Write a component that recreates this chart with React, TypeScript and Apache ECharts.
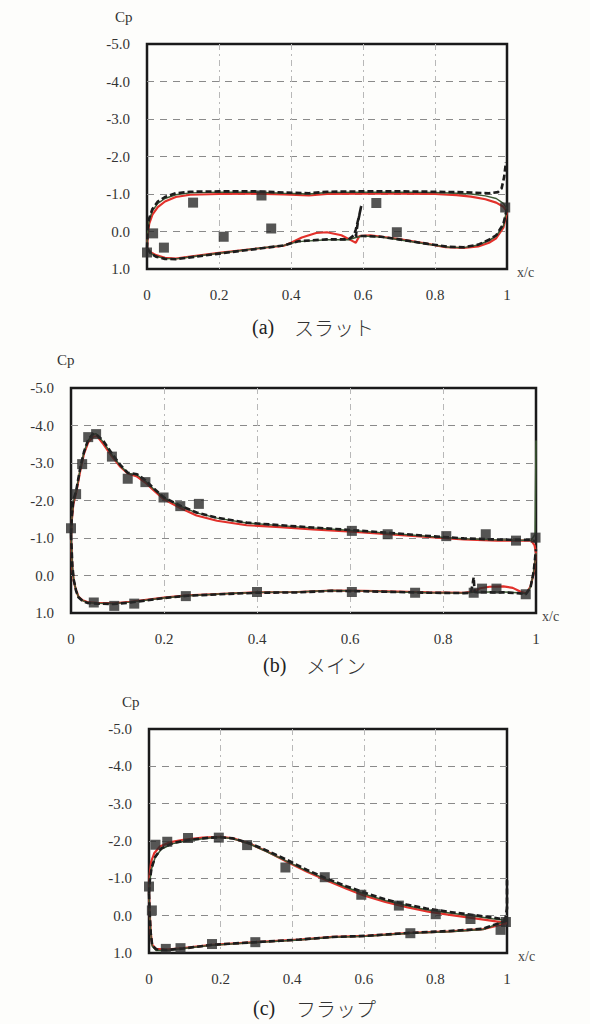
import React, { useEffect, useRef } from "react";
import * as echarts from "echarts";

// ---------- (a) slat ----------
const slatExp = [[0,0.56],[0.017,0.05],[0.047,0.43],[0.128,-0.77],[0.213,0.14],[0.318,-0.96],[0.345,-0.08],[0.637,-0.76],[0.694,0.02],[0.995,-0.64]];
const slatRedUpper = [[0,0.45],[0.002,0.1],[0.006,-0.2],[0.015,-0.45],[0.03,-0.65],[0.05,-0.8],[0.08,-0.92],[0.12,-0.98],[0.2,-1.0],[0.3,-1.01],[0.38,-0.99],[0.45,-0.96],[0.5,-1.0],[0.6,-1.01],[0.7,-1.01],[0.8,-1.0],[0.86,-0.97],[0.9,-0.93],[0.94,-0.86],[0.97,-0.77],[0.99,-0.66],[1.0,-0.52]];
const slatRedLower = [[0,0.45],[0.01,0.55],[0.025,0.63],[0.05,0.7],[0.08,0.72],[0.12,0.67],[0.2,0.57],[0.3,0.46],[0.38,0.38],[0.4,0.3],[0.43,0.16],[0.47,0.04],[0.5,0.02],[0.54,0.1],[0.57,0.25],[0.58,0.3],[0.59,0.12],[0.62,0.1],[0.7,0.2],[0.78,0.33],[0.83,0.42],[0.88,0.44],[0.92,0.4],[0.95,0.3],[0.97,0.18],[0.99,-0.1],[1.0,-0.52]];
const slatGreenUpper = [[0,0.45],[0.002,0.0],[0.006,-0.3],[0.015,-0.55],[0.03,-0.75],[0.05,-0.88],[0.08,-0.98],[0.12,-1.03],[0.2,-1.05],[0.3,-1.05],[0.38,-1.02],[0.45,-1.0],[0.5,-1.04],[0.6,-1.05],[0.7,-1.05],[0.8,-1.04],[0.86,-1.02],[0.9,-1.0],[0.94,-0.95],[0.97,-0.88],[0.99,-0.75],[1.0,-0.6]];
const slatGreenLower = [[0,0.45],[0.01,0.58],[0.025,0.66],[0.05,0.72],[0.08,0.73],[0.12,0.68],[0.2,0.58],[0.3,0.46],[0.38,0.37],[0.42,0.27],[0.5,0.22],[0.56,0.22],[0.58,0.16],[0.6,0.12],[0.65,0.15],[0.7,0.22],[0.78,0.34],[0.84,0.42],[0.88,0.43],[0.92,0.36],[0.95,0.24],[0.97,0.12],[0.99,-0.15],[1.0,-0.6]];
const slatDashUpper = [[0,0.45],[0.002,-0.05],[0.006,-0.35],[0.015,-0.6],[0.03,-0.8],[0.05,-0.92],[0.08,-1.02],[0.12,-1.06],[0.2,-1.07],[0.3,-1.07],[0.38,-1.04],[0.45,-1.02],[0.5,-1.06],[0.6,-1.07],[0.7,-1.07],[0.8,-1.06],[0.86,-1.05],[0.9,-1.04],[0.95,-1.02],[0.975,-1.05],[0.985,-1.15],[0.992,-1.45],[0.997,-1.85]];
const slatDashLower = [[0,0.45],[0.01,0.58],[0.025,0.67],[0.05,0.73],[0.08,0.74],[0.12,0.69],[0.2,0.59],[0.3,0.47],[0.38,0.37],[0.42,0.26],[0.5,0.21],[0.56,0.21],[0.575,0.1],[0.58,-0.05],[0.59,-0.45],[0.595,-0.68],[0.585,-0.2],[0.58,0.12],[0.6,0.12],[0.65,0.14],[0.7,0.21],[0.78,0.33],[0.84,0.41],[0.88,0.42],[0.92,0.35],[0.95,0.22],[0.97,0.1],[0.99,-0.2],[1.0,-0.62]];

// ---------- (b) main ----------
const mainExp = [[0,-1.26],[0.011,-2.17],[0.024,-2.97],[0.037,-3.69],[0.054,-3.77],[0.088,-3.17],[0.122,-2.58],[0.16,-2.49],[0.199,-2.08],[0.235,-1.85],[0.275,-1.91],[0.604,-1.19],[0.681,-1.1],[0.807,-1.05],[0.892,-1.1],[0.957,-0.93],[0.999,-1.01],
  [0.049,0.72],[0.093,0.81],[0.136,0.75],[0.247,0.55],[0.4,0.44],[0.604,0.44],[0.74,0.46],[0.866,0.46],[0.884,0.35],[0.915,0.35],[0.978,0.5]];
const mainRedUpper = [[0,-1.0],[0.002,-1.5],[0.005,-1.9],[0.011,-2.2],[0.02,-2.8],[0.028,-3.25],[0.037,-3.55],[0.048,-3.7],[0.056,-3.72],[0.07,-3.5],[0.088,-3.18],[0.106,-2.9],[0.122,-2.72],[0.142,-2.64],[0.16,-2.48],[0.178,-2.27],[0.2,-2.03],[0.235,-1.8],[0.27,-1.6],[0.314,-1.46],[0.378,-1.34],[0.45,-1.29],[0.52,-1.23],[0.604,-1.17],[0.681,-1.1],[0.773,-1.02],[0.845,-0.96],[0.916,-0.93],[0.96,-0.93],[0.99,-0.93],[0.997,-0.8],[1.0,-0.6]];
const mainRedLower = [[0,-1.0],[0.003,-0.2],[0.006,0.15],[0.011,0.4],[0.016,0.56],[0.025,0.66],[0.035,0.71],[0.056,0.73],[0.092,0.74],[0.128,0.7],[0.2,0.59],[0.25,0.53],[0.34,0.48],[0.4,0.45],[0.486,0.44],[0.56,0.4],[0.63,0.41],[0.7,0.43],[0.77,0.45],[0.845,0.46],[0.866,0.43],[0.88,0.34],[0.9,0.3],[0.93,0.29],[0.95,0.33],[0.965,0.42],[0.978,0.48],[0.988,0.3],[0.995,-0.05],[1.0,-0.6]];
const mainGreenUpper = [[0,-1.05],[0.002,-1.55],[0.005,-1.95],[0.011,-2.25],[0.02,-2.85],[0.028,-3.3],[0.037,-3.6],[0.046,-3.76],[0.054,-3.78],[0.07,-3.55],[0.088,-3.22],[0.106,-2.93],[0.122,-2.73],[0.142,-2.68],[0.16,-2.52],[0.178,-2.3],[0.2,-2.07],[0.235,-1.85],[0.27,-1.67],[0.314,-1.53],[0.378,-1.4],[0.45,-1.33],[0.52,-1.27],[0.604,-1.2],[0.681,-1.13],[0.773,-1.04],[0.845,-0.98],[0.916,-0.95],[0.96,-0.94],[0.99,-0.94],[0.998,-1.1],[1.0,-3.6]];
const mainGreenLower = [[0,-1.05],[0.003,-0.25],[0.006,0.12],[0.011,0.4],[0.016,0.57],[0.025,0.67],[0.035,0.72],[0.056,0.74],[0.092,0.75],[0.128,0.71],[0.2,0.6],[0.25,0.54],[0.34,0.48],[0.4,0.45],[0.486,0.44],[0.56,0.4],[0.63,0.41],[0.7,0.44],[0.77,0.46],[0.845,0.47],[0.866,0.45],[0.9,0.44],[0.93,0.44],[0.96,0.46],[0.978,0.49],[0.988,0.32],[0.995,-0.1],[1.0,-0.6]];
const mainDashUpper = [[0,-1.1],[0.002,-1.6],[0.005,-2.0],[0.011,-2.25],[0.02,-2.88],[0.028,-3.3],[0.037,-3.62],[0.046,-3.76],[0.054,-3.77],[0.07,-3.58],[0.088,-3.25],[0.106,-2.95],[0.122,-2.74],[0.142,-2.7],[0.16,-2.54],[0.178,-2.32],[0.2,-2.08],[0.235,-1.86],[0.27,-1.68],[0.314,-1.54],[0.378,-1.41],[0.45,-1.34],[0.52,-1.28],[0.604,-1.21],[0.681,-1.14],[0.773,-1.05],[0.845,-0.99],[0.916,-0.96],[0.96,-0.95],[0.99,-0.95],[1.0,-0.9]];
const mainDashLower = [[0,-1.1],[0.003,-0.25],[0.006,0.12],[0.011,0.41],[0.016,0.58],[0.025,0.68],[0.035,0.73],[0.056,0.75],[0.092,0.76],[0.128,0.72],[0.2,0.6],[0.25,0.54],[0.34,0.49],[0.4,0.46],[0.486,0.45],[0.56,0.41],[0.63,0.42],[0.7,0.44],[0.77,0.46],[0.845,0.47],[0.86,0.46],[0.864,0.2],[0.866,0.05],[0.868,0.44],[0.9,0.45],[0.93,0.45],[0.96,0.47],[0.978,0.5],[0.988,0.33],[0.995,-0.1],[1.0,-0.7]];

// ---------- (c) flap ----------
const flapExp = [[0,-0.78],[0.008,-0.14],[0.018,-1.9],[0.051,-1.98],[0.109,-2.08],[0.195,-2.09],[0.274,-1.89],[0.381,-1.29],[0.491,-1.03],[0.593,-0.56],[0.698,-0.27],[0.801,-0.04],[0.898,0.09],[0.997,0.17],
  [0.047,0.89],[0.088,0.87],[0.176,0.76],[0.297,0.71],[0.73,0.47],[0.982,0.38]];
const flapRedUpper = [[0,-0.6],[0.002,-1.1],[0.006,-1.45],[0.015,-1.68],[0.03,-1.85],[0.06,-1.97],[0.1,-2.04],[0.15,-2.09],[0.2,-2.11],[0.235,-2.07],[0.28,-1.93],[0.33,-1.72],[0.384,-1.45],[0.44,-1.18],[0.5,-0.93],[0.55,-0.73],[0.6,-0.54],[0.66,-0.37],[0.72,-0.23],[0.78,-0.11],[0.84,-0.02],[0.9,0.06],[0.96,0.14],[1.0,0.2]];
const flapRedLower = [[0,-0.6],[0.002,-0.07],[0.005,0.47],[0.009,0.78],[0.02,0.89],[0.048,0.91],[0.095,0.87],[0.176,0.78],[0.297,0.71],[0.42,0.64],[0.514,0.57],[0.607,0.54],[0.73,0.46],[0.84,0.42],[0.933,0.36],[1.0,0.2]];
const flapGreenUpper = [[0,-0.6],[0.002,-0.9],[0.007,-1.25],[0.017,-1.55],[0.034,-1.78],[0.067,-1.93],[0.114,-2.02],[0.17,-2.08],[0.2,-2.1],[0.235,-2.06],[0.281,-1.92],[0.328,-1.72],[0.384,-1.46],[0.44,-1.2],[0.495,-0.98],[0.551,-0.76],[0.607,-0.56],[0.663,-0.4],[0.719,-0.27],[0.775,-0.16],[0.84,-0.07],[0.905,0.01],[0.96,0.08],[1.0,0.13]];
const flapGreenLower = [[0,-0.6],[0.002,-0.05],[0.005,0.5],[0.009,0.82],[0.02,0.93],[0.048,0.93],[0.095,0.88],[0.176,0.79],[0.297,0.72],[0.42,0.65],[0.514,0.58],[0.607,0.55],[0.73,0.47],[0.84,0.43],[0.933,0.37],[1.0,0.13]];
const flapDashUpper = [[0,-0.6],[0.002,-0.92],[0.007,-1.27],[0.017,-1.57],[0.034,-1.8],[0.067,-1.95],[0.114,-2.03],[0.17,-2.09],[0.2,-2.1],[0.235,-2.07],[0.281,-1.94],[0.328,-1.75],[0.384,-1.5],[0.44,-1.23],[0.495,-1.0],[0.551,-0.79],[0.607,-0.6],[0.663,-0.43],[0.719,-0.3],[0.775,-0.19],[0.84,-0.1],[0.905,-0.02],[0.96,0.05],[0.995,0.1],[1.0,-0.2],[1.0,-0.95]];
const flapDashLower = [[0,-0.6],[0.002,-0.06],[0.005,0.48],[0.009,0.8],[0.02,0.9],[0.048,0.92],[0.095,0.88],[0.176,0.78],[0.297,0.71],[0.42,0.64],[0.514,0.57],[0.607,0.54],[0.73,0.46],[0.84,0.41],[0.933,0.35],[1.0,0.13]];

// ---------- axes / labels ----------
const xTicks = [0, 0.2, 0.4, 0.6, 0.8, 1];
const yTicks = [-5, -4, -3, -2, -1, 0, 1];
const captionTags = ["(a)", "(b)", "(c)"];
const captionNames = ["スラット", "メイン", "フラップ"];
const yAxisName = "Cp";
const xAxisName = "x/c";

const RED = "#e2312b";
const GREEN = "#3d5a34";
const DARK = "#1c1c1c";
const SERIF = "Liberation Serif";

const grids = [
  { left: 147, top: 44, width: 360, height: 225 },
  { left: 71, top: 388, width: 465, height: 225 },
  { left: 149, top: 729, width: 358, height: 224 },
];

const panels = [
  { red: [slatRedUpper, slatRedLower], green: [slatGreenUpper, slatGreenLower], dash: [slatDashUpper, slatDashLower], exp: slatExp },
  { red: [mainRedUpper, mainRedLower], green: [mainGreenUpper, mainGreenLower], dash: [mainDashUpper, mainDashLower], exp: mainExp },
  { red: [flapRedUpper, flapRedLower], green: [flapGreenUpper, flapGreenLower], dash: [flapDashUpper, flapDashLower], exp: flapExp },
];

const tagPos = [
  { x: 252, y: 327 },
  { x: 263, y: 665 },
  { x: 253, y: 1008 },
];
const namePos = [
  { x: 294, y: 327 },
  { x: 306, y: 665 },
  { x: 296, y: 1008 },
];
const cpPos = [
  { x: 115, y: 17 },
  { x: 57, y: 360 },
  { x: 122, y: 702 },
];
const xcPos = [
  { x: 517, y: 272 },
  { x: 542, y: 616 },
  { x: 518, y: 956 },
];

function buildOption() {
  const grid = grids.map((g) => ({
    ...g,
    show: true,
    borderColor: "#1a1a1a",
    borderWidth: 2.5,
    backgroundColor: "transparent",
    containLabel: false,
  }));
  const xAxis = grids.map((_, i) => ({
    type: "value",
    gridIndex: i,
    min: xTicks[0],
    max: xTicks[xTicks.length - 1],
    interval: 0.2,
    axisLine: { show: false },
    axisTick: { show: false },
    axisLabel: {
      margin: 18,
      fontFamily: SERIF,
      fontSize: 15,
      color: "#333",
      formatter: (v: number) => (v === 0 ? "0" : v === 1 ? "1" : v.toFixed(1)),
    },
    splitLine: { show: true, showMinLine: false, showMaxLine: false, lineStyle: { color: "#b8b8b8", type: [6, 4, 2, 4], width: 1 } },
  }));
  const yAxis = grids.map((_, i) => ({
    type: "value",
    gridIndex: i,
    min: yTicks[0],
    max: yTicks[yTicks.length - 1],
    interval: 1,
    inverse: true,
    axisLine: { show: false },
    axisTick: { show: false },
    axisLabel: {
      margin: 17,
      fontFamily: SERIF,
      fontSize: 15,
      color: "#333",
      formatter: (v: number) => v.toFixed(1),
    },
    splitLine: { show: true, showMinLine: false, showMaxLine: false, lineStyle: { color: "#8a8a8a", type: [7, 6], width: 1 } },
  }));

  const series: any[] = [];
  panels.forEach((p, i) => {
    const base = { type: "line", xAxisIndex: i, yAxisIndex: i, showSymbol: false, symbol: "none", silent: true, smooth: false };
    p.red.forEach((d) => series.push({ ...base, data: d, lineStyle: { color: RED, width: 2.2 }, z: 2 }));
    p.green.forEach((d) => series.push({ ...base, data: d, lineStyle: { color: GREEN, width: 1.5 }, z: 3 }));
    p.dash.forEach((d) => series.push({ ...base, data: d, lineStyle: { color: DARK, width: 2.6, type: [6, 3] }, z: 4 }));
    series.push({
      type: "scatter",
      xAxisIndex: i,
      yAxisIndex: i,
      data: p.exp,
      symbol: "rect",
      symbolSize: 10,
      itemStyle: { color: "#2a2a2a" },
      z: 5,
      silent: true,
    });
  });

  const graphic: any[] = [];
  captionTags.forEach((c, i) => {
    graphic.push({
      type: "text",
      x: tagPos[i].x,
      y: tagPos[i].y,
      style: { text: c, fontFamily: SERIF, fontSize: 20, fill: "#222", align: "left", verticalAlign: "middle" },
    });
    graphic.push({
      type: "text",
      x: namePos[i].x,
      y: namePos[i].y,
      style: { text: captionNames[i], fontFamily: "Noto Sans CJK JP", fontSize: 20, fontWeight: 300, fill: "#333", align: "left", verticalAlign: "middle" },
    });
    graphic.push({
      type: "text",
      x: cpPos[i].x,
      y: cpPos[i].y,
      style: { text: yAxisName, fontFamily: SERIF, fontSize: 15, fill: "#333", align: "left", verticalAlign: "middle" },
    });
    graphic.push({
      type: "text",
      x: xcPos[i].x,
      y: xcPos[i].y,
      style: { text: xAxisName, fontFamily: SERIF, fontSize: 14, fill: "#444", align: "left", verticalAlign: "middle" },
    });
  });

  return {
    animation: false,
    backgroundColor: "#fdfdfb",
    grid,
    xAxis,
    yAxis,
    series,
    graphic,
  };
}

export default function App() {
  const ref = useRef<HTMLDivElement>(null);
  useEffect(() => {
    document.body.style.margin = "0";
    if (!ref.current) return;
    const chart = echarts.init(ref.current, undefined, { renderer: "svg" });
    chart.setOption(buildOption() as any);
    return () => chart.dispose();
  }, []);
  return <div ref={ref} style={{ width: 590, height: 1024 }} />;
}
